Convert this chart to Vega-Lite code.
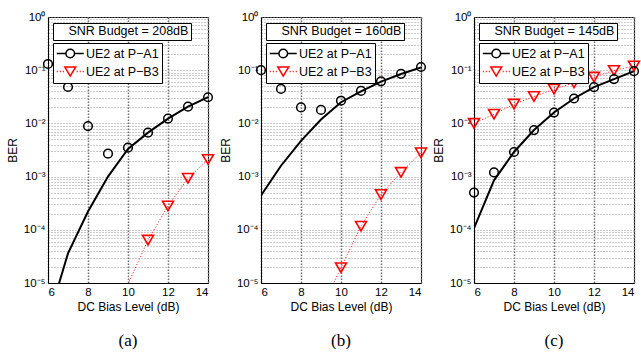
{
  "$schema": "https://vega.github.io/schema/vega-lite/v6.json",
  "padding": {"left": 5, "top": 10, "right": 0, "bottom": 0},
  "background": "white",
  "datasets": {
    "ber": [
      {"p": "a", "b": "SNR Budget = 208dB", "s": "UE2 at P−A1", "x": 6, "m": 0.131, "c": 0.000002},
      {"p": "a", "b": "SNR Budget = 208dB", "s": "UE2 at P−A1", "x": 7, "m": 0.0483, "c": 0.000036},
      {"p": "a", "b": "SNR Budget = 208dB", "s": "UE2 at P−A1", "x": 8, "m": 0.0089, "c": 0.00022},
      {"p": "a", "b": "SNR Budget = 208dB", "s": "UE2 at P−A1", "x": 9, "m": 0.0027, "c": 0.001},
      {"p": "a", "b": "SNR Budget = 208dB", "s": "UE2 at P−A1", "x": 10, "m": 0.0035, "c": 0.0033},
      {"p": "a", "b": "SNR Budget = 208dB", "s": "UE2 at P−A1", "x": 11, "m": 0.0067, "c": 0.0067},
      {"p": "a", "b": "SNR Budget = 208dB", "s": "UE2 at P−A1", "x": 12, "m": 0.0123, "c": 0.0123},
      {"p": "a", "b": "SNR Budget = 208dB", "s": "UE2 at P−A1", "x": 13, "m": 0.0206, "c": 0.0206},
      {"p": "a", "b": "SNR Budget = 208dB", "s": "UE2 at P−A1", "x": 14, "m": 0.031, "c": 0.031},
      {"p": "a", "b": "SNR Budget = 208dB", "s": "UE2 at P−B3", "x": 10, "m": 0.0000095, "c": 0.0000095},
      {"p": "a", "b": "SNR Budget = 208dB", "s": "UE2 at P−B3", "x": 11, "m": 0.000064, "c": 0.000064},
      {"p": "a", "b": "SNR Budget = 208dB", "s": "UE2 at P−B3", "x": 12, "m": 0.00028, "c": 0.00028},
      {"p": "a", "b": "SNR Budget = 208dB", "s": "UE2 at P−B3", "x": 13, "m": 0.00093, "c": 0.00093},
      {"p": "a", "b": "SNR Budget = 208dB", "s": "UE2 at P−B3", "x": 14, "m": 0.0021, "c": 0.0021},
      {"p": "b", "b": "SNR Budget = 160dB", "s": "UE2 at P−A1", "x": 6, "m": 0.1, "c": 0.00044},
      {"p": "b", "b": "SNR Budget = 160dB", "s": "UE2 at P−A1", "x": 7, "m": 0.0445, "c": 0.0016},
      {"p": "b", "b": "SNR Budget = 160dB", "s": "UE2 at P−A1", "x": 8, "m": 0.02, "c": 0.0047},
      {"p": "b", "b": "SNR Budget = 160dB", "s": "UE2 at P−A1", "x": 9, "m": 0.0179, "c": 0.0118},
      {"p": "b", "b": "SNR Budget = 160dB", "s": "UE2 at P−A1", "x": 10, "m": 0.0267, "c": 0.025},
      {"p": "b", "b": "SNR Budget = 160dB", "s": "UE2 at P−A1", "x": 11, "m": 0.0408, "c": 0.04},
      {"p": "b", "b": "SNR Budget = 160dB", "s": "UE2 at P−A1", "x": 12, "m": 0.0617, "c": 0.061},
      {"p": "b", "b": "SNR Budget = 160dB", "s": "UE2 at P−A1", "x": 13, "m": 0.0855, "c": 0.085},
      {"p": "b", "b": "SNR Budget = 160dB", "s": "UE2 at P−A1", "x": 14, "m": 0.115, "c": 0.113},
      {"p": "b", "b": "SNR Budget = 160dB", "s": "UE2 at P−B3", "x": 9, "m": 0.0000032, "c": 0.0000032},
      {"p": "b", "b": "SNR Budget = 160dB", "s": "UE2 at P−B3", "x": 10, "m": 0.0000194, "c": 0.0000194},
      {"p": "b", "b": "SNR Budget = 160dB", "s": "UE2 at P−B3", "x": 11, "m": 0.000117, "c": 0.000117},
      {"p": "b", "b": "SNR Budget = 160dB", "s": "UE2 at P−B3", "x": 12, "m": 0.00046, "c": 0.00046},
      {"p": "b", "b": "SNR Budget = 160dB", "s": "UE2 at P−B3", "x": 13, "m": 0.0012, "c": 0.0012},
      {"p": "b", "b": "SNR Budget = 160dB", "s": "UE2 at P−B3", "x": 14, "m": 0.0028, "c": 0.0028},
      {"p": "c", "b": "SNR Budget = 145dB", "s": "UE2 at P−A1", "x": 6, "m": 0.0005, "c": 0.000107},
      {"p": "c", "b": "SNR Budget = 145dB", "s": "UE2 at P−A1", "x": 7, "m": 0.0012, "c": 0.00085},
      {"p": "c", "b": "SNR Budget = 145dB", "s": "UE2 at P−A1", "x": 8, "m": 0.0029, "c": 0.0029},
      {"p": "c", "b": "SNR Budget = 145dB", "s": "UE2 at P−A1", "x": 9, "m": 0.0075, "c": 0.0075},
      {"p": "c", "b": "SNR Budget = 145dB", "s": "UE2 at P−A1", "x": 10, "m": 0.016, "c": 0.016},
      {"p": "c", "b": "SNR Budget = 145dB", "s": "UE2 at P−A1", "x": 11, "m": 0.0294, "c": 0.0294},
      {"p": "c", "b": "SNR Budget = 145dB", "s": "UE2 at P−A1", "x": 12, "m": 0.048, "c": 0.048},
      {"p": "c", "b": "SNR Budget = 145dB", "s": "UE2 at P−A1", "x": 13, "m": 0.068, "c": 0.068},
      {"p": "c", "b": "SNR Budget = 145dB", "s": "UE2 at P−A1", "x": 14, "m": 0.096, "c": 0.096},
      {"p": "c", "b": "SNR Budget = 145dB", "s": "UE2 at P−B3", "x": 6, "m": 0.01, "c": 0.01},
      {"p": "c", "b": "SNR Budget = 145dB", "s": "UE2 at P−B3", "x": 7, "m": 0.0149, "c": 0.0149},
      {"p": "c", "b": "SNR Budget = 145dB", "s": "UE2 at P−B3", "x": 8, "m": 0.023, "c": 0.023},
      {"p": "c", "b": "SNR Budget = 145dB", "s": "UE2 at P−B3", "x": 9, "m": 0.032, "c": 0.032},
      {"p": "c", "b": "SNR Budget = 145dB", "s": "UE2 at P−B3", "x": 10, "m": 0.044, "c": 0.044},
      {"p": "c", "b": "SNR Budget = 145dB", "s": "UE2 at P−B3", "x": 11, "m": 0.058, "c": 0.058},
      {"p": "c", "b": "SNR Budget = 145dB", "s": "UE2 at P−B3", "x": 12, "m": 0.074, "c": 0.074},
      {"p": "c", "b": "SNR Budget = 145dB", "s": "UE2 at P−B3", "x": 13, "m": 0.099, "c": 0.099},
      {"p": "c", "b": "SNR Budget = 145dB", "s": "UE2 at P−B3", "x": 14, "m": 0.12, "c": 0.12}
    ]
  },
  "bounds": "flush",
  "spacing": 53,
  "resolve": {
    "scale": {"color": "independent", "shape": "independent", "opacity": "independent"},
    "legend": {"color": "independent", "shape": "independent", "opacity": "independent"}
  },
  "hconcat": [
    {
      "width": 160, "height": 266,
      "title": {"text": "(a)"},
      "data": {"name": "ber"},
      "transform": [{"filter": "datum.p === 'a'"}, {"fold": ["m", "c"], "as": ["k", "v"]}],
      "encoding": {
        "x": {"field": "x", "type": "quantitative", "scale": {"domain": [6, 14]}, "axis": {"values": [6, 8, 10, 12, 14], "grid": true, "gridColor": "#6e6e6e", "gridDash": [1.5, 1.5], "gridWidth": 1.5, "gridOpacity": 1, "title": "DC Bias Level (dB)", "labelOverlap": false}},
        "y": {"field": "v", "type": "quantitative", "scale": {"type": "log", "domain": [0.00001, 1], "nice": false}, "axis": {"title": "BER", "values": [0.00001,0.00002,0.00003,0.00004,0.00005,0.00006,0.00007,0.00008,0.00009,0.0001,0.0002,0.0003,0.0004,0.0005,0.0006,0.0007,0.0008,0.0009,0.001,0.002,0.003,0.004,0.005,0.006,0.007,0.008,0.009,0.01,0.02,0.03,0.04,0.05,0.06,0.07,0.08,0.09,0.1,0.2,0.3,0.4,0.5,0.6,0.7,0.8,0.9,1], "labelOverlap": false, "labelExpr": "abs(log(datum.value)/LN10 - round(log(datum.value)/LN10)) < 0.001 ? '10' + (round(log(datum.value)/LN10) < 0 ? '⁻' : '') + substring('⁰¹²³⁴⁵', abs(round(log(datum.value)/LN10)), abs(round(log(datum.value)/LN10)) + 1) : ''"}}
      },
      "layer": [
        {
          "transform": [{"filter": "datum.k === 'c' && datum.s === 'UE2 at P−A1'"}],
          "mark": {"type": "line", "color": "black", "strokeWidth": 2, "clip": true},
          "encoding": {}
        },
        {
          "transform": [{"filter": "datum.k === 'c' && datum.s === 'UE2 at P−B3'"}],
          "mark": {"type": "line", "color": "red", "strokeWidth": 1, "strokeDash": [1, 2], "clip": true},
          "encoding": {}
        },
        {
          "transform": [{"filter": "datum.k === 'm' && datum.v >= 0.00001 && datum.s === 'UE2 at P−B3'"}],
          "mark": {"type": "point", "shape": "triangle-down", "size": 120, "filled": false, "strokeWidth": 1.6, "opacity": 1, "color": "red"},
          "encoding": {}
        },
        {
          "transform": [{"filter": "datum.k === 'm' && datum.v >= 0.00001 && datum.s === 'UE2 at P−A1'"}],
          "mark": {"type": "point", "shape": "circle", "size": 75, "filled": false, "strokeWidth": 1.5, "color": "black"},
          "encoding": {
            "opacity": {"field": "b", "type": "ordinal", "scale": {"range": [1, 1]},
              "legend": {"orient": "none", "legendX": 5, "legendY": 6, "title": null, "strokeColor": "black", "fillColor": "white", "padding": 2, "symbolOpacity": 0, "symbolStrokeWidth": 0, "symbolFillColor": "transparent", "symbolStrokeColor": "transparent", "symbolSize": 1, "labelOffset": 1, "labelFont": "Liberation Sans", "labelFontSize": 12.5, "labelColor": "black", "labelLimit": 300,
                "encode": {"symbols": {"update": {"opacity": {"value": 0}}}}}}
          }
        },
        {
          "transform": [{"filter": "datum.k === 'm' && datum.v >= 0.00001"}],
          "mark": {"type": "point", "filled": false, "opacity": 0, "size": 10},
          "encoding": {
            "shape": {"field": "s", "type": "nominal", "scale": {"domain": ["UE2 at P−A1", "UE2 at P−B3"], "range": ["M-1,0L0.36,0M1.64,0A0.64,0.64,0,1,1,0.36,0A0.64,0.64,0,1,1,1.64,0M1.64,0L3,0", "M-1,0L-0.85,0M-0.55,0L-0.4,0M-0.1,0L0.05,0M0.19,-0.67L1.81,-0.67L1,0.67ZM1.95,0L2.1,0M2.4,0L2.55,0M2.85,0L3,0"]}},
            "color": {"field": "s", "type": "nominal", "scale": {"domain": ["UE2 at P−A1", "UE2 at P−B3"], "range": ["black", "red"]},
              "legend": {"orient": "none", "legendX": 5, "legendY": 26, "title": null, "strokeColor": "black", "fillColor": "white", "padding": 3, "labelFont": "Liberation Sans", "labelFontSize": 12.5, "labelColor": "black", "labelOffset": 15, "rowPadding": 2, "symbolSize": 182, "symbolStrokeWidth": 1.5, "labelLimit": 300,
                "encode": {"symbols": {"update": {"size": {"value": 182}, "fill": {"value": "white"}, "opacity": {"value": 1}, "strokeWidth": {"value": 1.5}}}}}}
          }
        }
      ]
    },
    {
      "width": 160, "height": 266,
      "title": {"text": "(b)"},
      "data": {"name": "ber"},
      "transform": [{"filter": "datum.p === 'b'"}, {"fold": ["m", "c"], "as": ["k", "v"]}],
      "encoding": {
        "x": {"field": "x", "type": "quantitative", "scale": {"domain": [6, 14]}, "axis": {"values": [6, 8, 10, 12, 14], "grid": true, "gridColor": "#6e6e6e", "gridDash": [1.5, 1.5], "gridWidth": 1.5, "gridOpacity": 1, "title": "DC Bias Level (dB)", "labelOverlap": false}},
        "y": {"field": "v", "type": "quantitative", "scale": {"type": "log", "domain": [0.00001, 1], "nice": false}, "axis": {"title": "BER", "values": [0.00001,0.00002,0.00003,0.00004,0.00005,0.00006,0.00007,0.00008,0.00009,0.0001,0.0002,0.0003,0.0004,0.0005,0.0006,0.0007,0.0008,0.0009,0.001,0.002,0.003,0.004,0.005,0.006,0.007,0.008,0.009,0.01,0.02,0.03,0.04,0.05,0.06,0.07,0.08,0.09,0.1,0.2,0.3,0.4,0.5,0.6,0.7,0.8,0.9,1], "labelOverlap": false, "labelExpr": "abs(log(datum.value)/LN10 - round(log(datum.value)/LN10)) < 0.001 ? '10' + (round(log(datum.value)/LN10) < 0 ? '⁻' : '') + substring('⁰¹²³⁴⁵', abs(round(log(datum.value)/LN10)), abs(round(log(datum.value)/LN10)) + 1) : ''"}}
      },
      "layer": [
        {
          "transform": [{"filter": "datum.k === 'c' && datum.s === 'UE2 at P−A1'"}],
          "mark": {"type": "line", "color": "black", "strokeWidth": 2, "clip": true},
          "encoding": {}
        },
        {
          "transform": [{"filter": "datum.k === 'c' && datum.s === 'UE2 at P−B3'"}],
          "mark": {"type": "line", "color": "red", "strokeWidth": 1, "strokeDash": [1, 2], "clip": true},
          "encoding": {}
        },
        {
          "transform": [{"filter": "datum.k === 'm' && datum.v >= 0.00001 && datum.s === 'UE2 at P−B3'"}],
          "mark": {"type": "point", "shape": "triangle-down", "size": 120, "filled": false, "strokeWidth": 1.6, "opacity": 1, "color": "red"},
          "encoding": {}
        },
        {
          "transform": [{"filter": "datum.k === 'm' && datum.v >= 0.00001 && datum.s === 'UE2 at P−A1'"}],
          "mark": {"type": "point", "shape": "circle", "size": 75, "filled": false, "strokeWidth": 1.5, "color": "black"},
          "encoding": {
            "opacity": {"field": "b", "type": "ordinal", "scale": {"range": [1, 1]},
              "legend": {"orient": "none", "legendX": 5, "legendY": 6, "title": null, "strokeColor": "black", "fillColor": "white", "padding": 2, "symbolOpacity": 0, "symbolStrokeWidth": 0, "symbolFillColor": "transparent", "symbolStrokeColor": "transparent", "symbolSize": 1, "labelOffset": 1, "labelFont": "Liberation Sans", "labelFontSize": 12.5, "labelColor": "black", "labelLimit": 300,
                "encode": {"symbols": {"update": {"opacity": {"value": 0}}}}}}
          }
        },
        {
          "transform": [{"filter": "datum.k === 'm' && datum.v >= 0.00001"}],
          "mark": {"type": "point", "filled": false, "opacity": 0, "size": 10},
          "encoding": {
            "shape": {"field": "s", "type": "nominal", "scale": {"domain": ["UE2 at P−A1", "UE2 at P−B3"], "range": ["M-1,0L0.36,0M1.64,0A0.64,0.64,0,1,1,0.36,0A0.64,0.64,0,1,1,1.64,0M1.64,0L3,0", "M-1,0L-0.85,0M-0.55,0L-0.4,0M-0.1,0L0.05,0M0.19,-0.67L1.81,-0.67L1,0.67ZM1.95,0L2.1,0M2.4,0L2.55,0M2.85,0L3,0"]}},
            "color": {"field": "s", "type": "nominal", "scale": {"domain": ["UE2 at P−A1", "UE2 at P−B3"], "range": ["black", "red"]},
              "legend": {"orient": "none", "legendX": 5, "legendY": 26, "title": null, "strokeColor": "black", "fillColor": "white", "padding": 3, "labelFont": "Liberation Sans", "labelFontSize": 12.5, "labelColor": "black", "labelOffset": 15, "rowPadding": 2, "symbolSize": 182, "symbolStrokeWidth": 1.5, "labelLimit": 300,
                "encode": {"symbols": {"update": {"size": {"value": 182}, "fill": {"value": "white"}, "opacity": {"value": 1}, "strokeWidth": {"value": 1.5}}}}}}
          }
        }
      ]
    },
    {
      "width": 160, "height": 266,
      "title": {"text": "(c)"},
      "data": {"name": "ber"},
      "transform": [{"filter": "datum.p === 'c'"}, {"fold": ["m", "c"], "as": ["k", "v"]}],
      "encoding": {
        "x": {"field": "x", "type": "quantitative", "scale": {"domain": [6, 14]}, "axis": {"values": [6, 8, 10, 12, 14], "grid": true, "gridColor": "#6e6e6e", "gridDash": [1.5, 1.5], "gridWidth": 1.5, "gridOpacity": 1, "title": "DC Bias Level (dB)", "labelOverlap": false}},
        "y": {"field": "v", "type": "quantitative", "scale": {"type": "log", "domain": [0.00001, 1], "nice": false}, "axis": {"title": "BER", "values": [0.00001,0.00002,0.00003,0.00004,0.00005,0.00006,0.00007,0.00008,0.00009,0.0001,0.0002,0.0003,0.0004,0.0005,0.0006,0.0007,0.0008,0.0009,0.001,0.002,0.003,0.004,0.005,0.006,0.007,0.008,0.009,0.01,0.02,0.03,0.04,0.05,0.06,0.07,0.08,0.09,0.1,0.2,0.3,0.4,0.5,0.6,0.7,0.8,0.9,1], "labelOverlap": false, "labelExpr": "abs(log(datum.value)/LN10 - round(log(datum.value)/LN10)) < 0.001 ? '10' + (round(log(datum.value)/LN10) < 0 ? '⁻' : '') + substring('⁰¹²³⁴⁵', abs(round(log(datum.value)/LN10)), abs(round(log(datum.value)/LN10)) + 1) : ''"}}
      },
      "layer": [
        {
          "transform": [{"filter": "datum.k === 'c' && datum.s === 'UE2 at P−A1'"}],
          "mark": {"type": "line", "color": "black", "strokeWidth": 2, "clip": true},
          "encoding": {}
        },
        {
          "transform": [{"filter": "datum.k === 'c' && datum.s === 'UE2 at P−B3'"}],
          "mark": {"type": "line", "color": "red", "strokeWidth": 1, "strokeDash": [1, 2], "clip": true},
          "encoding": {}
        },
        {
          "transform": [{"filter": "datum.k === 'm' && datum.v >= 0.00001 && datum.s === 'UE2 at P−B3'"}],
          "mark": {"type": "point", "shape": "triangle-down", "size": 120, "filled": false, "strokeWidth": 1.6, "opacity": 1, "color": "red"},
          "encoding": {}
        },
        {
          "transform": [{"filter": "datum.k === 'm' && datum.v >= 0.00001 && datum.s === 'UE2 at P−A1'"}],
          "mark": {"type": "point", "shape": "circle", "size": 75, "filled": false, "strokeWidth": 1.5, "color": "black"},
          "encoding": {
            "opacity": {"field": "b", "type": "ordinal", "scale": {"range": [1, 1]},
              "legend": {"orient": "none", "legendX": 5, "legendY": 6, "title": null, "strokeColor": "black", "fillColor": "white", "padding": 2, "symbolOpacity": 0, "symbolStrokeWidth": 0, "symbolFillColor": "transparent", "symbolStrokeColor": "transparent", "symbolSize": 1, "labelOffset": 1, "labelFont": "Liberation Sans", "labelFontSize": 12.5, "labelColor": "black", "labelLimit": 300,
                "encode": {"symbols": {"update": {"opacity": {"value": 0}}}}}}
          }
        },
        {
          "transform": [{"filter": "datum.k === 'm' && datum.v >= 0.00001"}],
          "mark": {"type": "point", "filled": false, "opacity": 0, "size": 10},
          "encoding": {
            "shape": {"field": "s", "type": "nominal", "scale": {"domain": ["UE2 at P−A1", "UE2 at P−B3"], "range": ["M-1,0L0.36,0M1.64,0A0.64,0.64,0,1,1,0.36,0A0.64,0.64,0,1,1,1.64,0M1.64,0L3,0", "M-1,0L-0.85,0M-0.55,0L-0.4,0M-0.1,0L0.05,0M0.19,-0.67L1.81,-0.67L1,0.67ZM1.95,0L2.1,0M2.4,0L2.55,0M2.85,0L3,0"]}},
            "color": {"field": "s", "type": "nominal", "scale": {"domain": ["UE2 at P−A1", "UE2 at P−B3"], "range": ["black", "red"]},
              "legend": {"orient": "none", "legendX": 5, "legendY": 26, "title": null, "strokeColor": "black", "fillColor": "white", "padding": 3, "labelFont": "Liberation Sans", "labelFontSize": 12.5, "labelColor": "black", "labelOffset": 15, "rowPadding": 2, "symbolSize": 182, "symbolStrokeWidth": 1.5, "labelLimit": 300,
                "encode": {"symbols": {"update": {"size": {"value": 182}, "fill": {"value": "white"}, "opacity": {"value": 1}, "strokeWidth": {"value": 1.5}}}}}}
          }
        }
      ]
    }
  ],
  "config": {
    "font": "Liberation Sans",
    "view": {"stroke": "black", "strokeWidth": 1},
    "axis": {"domainColor": "black", "domainWidth": 1, "labelColor": "black", "titleColor": "black", "labelFont": "Liberation Sans", "titleFont": "Liberation Sans", "labelFontSize": 11.5, "titleFontSize": 12, "titleFontWeight": "normal", "grid": true, "gridColor": "#999999", "gridDash": [1, 2], "gridOpacity": 1, "gridWidth": 1, "ticks": false, "labelPadding": 3},
    "title": {"font": "Liberation Serif", "fontSize": 17, "fontWeight": "normal", "color": "black", "orient": "bottom", "offset": 20}
  }
}
